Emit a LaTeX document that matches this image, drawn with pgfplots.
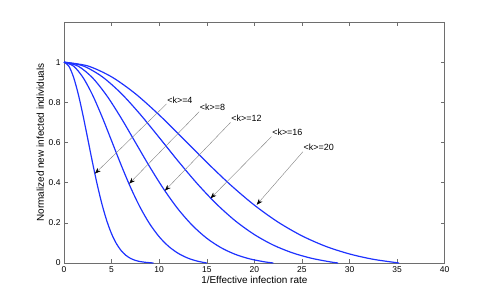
\documentclass[border=0pt]{standalone}
\usepackage{pgfplots}
\pgfplotsset{compat=1.18}
\usepackage{fontspec}
\setmainfont{Liberation Sans}
\usetikzlibrary{arrows.meta}
\definecolor{mblue}{RGB}{30,50,255}
\definecolor{axgray}{RGB}{110,110,110}
\tikzset{curve/.style={mblue, line width=1.2pt, smooth, tension=0.5}}
\begin{document}
\begin{tikzpicture}
\begin{axis}[
  at={(0,0)}, anchor=south west,
  scale only axis, width=380.7bp, height=241bp,
  xmin=0, xmax=40, ymin=0, ymax=1.2,
  xtick={0,5,...,40}, ytick={0,0.2,0.4,0.6,0.8,1},
  tick align=inside, tick pos=both,
  major tick length=4bp,
  axis line style={axgray, line width=0.8pt},
  every tick/.style={axgray, line width=0.5pt},
  /pgf/number format/assume math mode=true,
  ticklabel style={font=\fontsize{8.5}{10}\selectfont},
  label style={font=\fontsize{10}{12}\selectfont},
  xlabel={1/Effective infection rate},
  ylabel={Normalized new infected individuals},
  xlabel style={yshift=3bp},
  ylabel style={yshift=-2bp},
  clip=false,
]
% <k>=4
\addplot[curve] coordinates {(0,1) (0.5,0.9809) (1,0.9257) (1.5,0.8406) (2,0.7345) (2.5,0.6174) (3,0.4994) (3.5,0.3886) (4,0.2910) (4.5,0.2096) (5,0.1453) (5.5,0.0969) (6,0.0622) (6.5,0.0384) (7,0.0228) (7.5,0.0130) (8,0.0072) (8.5,0.0038) (9,0.0015) (9.4,0)};
% <k>=8
\addplot[curve] coordinates {(0,1) (1,0.9804) (2,0.9237) (3,0.8365) (4,0.7278) (5,0.6084) (6,0.4882) (7,0.3758) (8,0.2771) (9,0.1951) (10,0.1307) (11,0.0825) (12,0.0481) (13,0.0247) (14,0.0094) (15,0)};
% <k>=12
\addplot[curve] coordinates {(0,1) (1.5,0.9799) (3,0.9220) (4.5,0.8329) (6,0.7222) (7.5,0.6007) (9,0.4793) (10.5,0.3664) (12,0.2677) (13.5,0.1866) (15,0.1232) (16.5,0.0762) (18,0.0430) (19.5,0.0207) (21,0.0063) (22,0)};
% <k>=16
\addplot[curve] coordinates {(0,1) (2,0.9815) (4,0.9280) (6,0.8449) (8,0.7407) (10,0.6250) (12,0.5070) (14,0.3950) (16,0.2948) (18,0.2099) (20,0.1416) (22,0.0890) (24,0.0506) (26,0.0236) (28,0.0053) (28.8,0)};
% <k>=20
\addplot[curve] coordinates {(0,1) (2.5,0.9812) (5,0.9269) (7.5,0.8429) (10,0.7373) (12.5,0.6203) (15,0.5014) (17.5,0.3887) (20,0.2881) (22.5,0.2033) (25,0.1352) (27.5,0.0830) (30,0.0450) (32.5,0.0184) (35.2,0)};
% annotations
\tikzset{ann/.style={draw=gray, line width=0.4pt, -{Stealth[length=6bp,width=4.5bp,black]}},
         annl/.style={anchor=south west, inner sep=0.6bp, font=\fontsize{9}{10}\selectfont}}
\draw[ann] (axis cs:10.77,0.792) -- (axis cs:3.25,0.445);
\node[annl] at (axis cs:10.77,0.792) {<k>=4};
\draw[ann] (axis cs:14.2,0.753) -- (axis cs:6.85,0.395);
\node[annl] at (axis cs:14.2,0.753) {<k>=8};
\draw[ann] (axis cs:17.5,0.70) -- (axis cs:10.6,0.36);
\node[annl] at (axis cs:17.5,0.70) {<k>=12};
\draw[ann] (axis cs:21.8,0.629) -- (axis cs:15.4,0.322);
\node[annl] at (axis cs:21.8,0.629) {<k>=16};
\draw[ann] (axis cs:25.1,0.554) -- (axis cs:20.25,0.29);
\node[annl] at (axis cs:25.1,0.554) {<k>=20};
\end{axis}
\useasboundingbox (-64bp,-34bp) rectangle (427bp,263bp);
\end{tikzpicture}
\end{document}
